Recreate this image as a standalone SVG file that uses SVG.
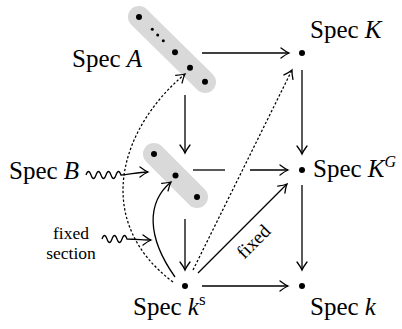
<svg xmlns="http://www.w3.org/2000/svg" width="402" height="329" viewBox="0 0 402 329">
<style>
.lbl{font-family:"Liberation Serif","Times New Roman",serif;font-size:25px;fill:#000}
.sm{font-family:"Liberation Serif","Times New Roman",serif;font-size:19px;fill:#000}
.fs{font-family:"Liberation Serif","Times New Roman",serif;font-size:17.5px;fill:#000}
.ln{fill:none;stroke:#000;stroke-width:1.3}
.dt{fill:none;stroke:#000;stroke-width:1.25;stroke-dasharray:2.4 2}
.cap{stroke:#d9d9d9;stroke-width:22;stroke-linecap:round}
.dot{fill:#000}
</style>
<defs>
<marker id="arr" viewBox="-10 -7 12 14" refX="0" refY="0" markerWidth="12" markerHeight="14" markerUnits="userSpaceOnUse" orient="auto">
<path d="M-8,-5 Q-3,-1.2 0,0 Q-3,1.2 -8,5" fill="none" stroke="#000" stroke-width="1.3" stroke-linecap="round" stroke-dasharray="none"/>
</marker>
</defs>
<rect width="402" height="329" fill="#fff"/>

<g id="nodeA">
<line class="cap" x1="139" y1="17" x2="205" y2="82"/>
<circle class="dot" cx="139" cy="17" r="3"/>
<circle class="dot" cx="152.3" cy="29.3" r="1.5"/>
<circle class="dot" cx="157.7" cy="35" r="1.5"/>
<circle class="dot" cx="163.3" cy="40.7" r="1.5"/>
<circle class="dot" cx="175" cy="52.3" r="3"/>
<circle class="dot" cx="190" cy="67.7" r="3"/>
<circle class="dot" cx="205" cy="81.7" r="3"/>
<text class="lbl" x="72" y="67">Spec <tspan font-style="italic">A</tspan></text>
</g>

<g id="nodeB">
<line class="cap" x1="154" y1="154" x2="197" y2="197"/>
<circle class="dot" cx="154" cy="154" r="3"/>
<circle class="dot" cx="175.5" cy="175.5" r="3"/>
<circle class="dot" cx="197" cy="197" r="3"/>
<text class="lbl" x="9" y="179">Spec <tspan font-style="italic">B</tspan></text>
</g>

<g id="nodeK">
<circle class="dot" cx="302" cy="53" r="3"/>
<text class="lbl" x="310" y="38">Spec <tspan font-style="italic">K</tspan></text>
</g>

<g id="nodeKG">
<circle class="dot" cx="302" cy="170" r="3"/>
<text class="lbl" x="313" y="177">Spec <tspan font-style="italic">K</tspan><tspan font-style="italic" font-size="16" dy="-10">G</tspan></text>
</g>

<g id="nodeks">
<circle class="dot" cx="185" cy="286" r="3"/>
<text class="lbl" x="133" y="315">Spec <tspan font-style="italic">k</tspan><tspan font-size="17" dy="-10">s</tspan></text>
</g>

<g id="nodek">
<circle class="dot" cx="302" cy="286" r="3"/>
<text class="lbl" x="310" y="315">Spec <tspan font-style="italic">k</tspan></text>
</g>

<g id="fixedsection">
<text class="fs" x="71" y="239" text-anchor="middle">fixed</text>
<text class="fs" x="71" y="258.5" text-anchor="middle">section</text>
</g>

<g id="connectors">
<path class="ln" d="M202,53 H289" marker-end="url(#arr)"/>
<path class="ln" d="M302,70 V154" marker-end="url(#arr)"/>
<path class="ln" d="M302,185 V270" marker-end="url(#arr)"/>
<path class="ln" d="M202,286 H288" marker-end="url(#arr)"/>
<path class="ln" d="M185,95 V153" marker-end="url(#arr)"/>
<path class="ln" d="M185,219 V270" marker-end="url(#arr)"/>
<path class="ln" d="M193,170 H225"/>
<path class="ln" d="M250,170 H288" marker-end="url(#arr)"/>
<path class="ln" d="M198,273 L287,184" marker-end="url(#arr)"/>
<text class="sm" transform="translate(258,246) rotate(-45)" text-anchor="middle">fixed</text>
<path class="dt" d="M173,282 C93,222 118,130 185,74" marker-end="url(#arr)"/>
<path class="dt" d="M193,270 L292,70" marker-end="url(#arr)"/>
<path class="ln" d="M175,277 C146,236 147,202 171,182" marker-end="url(#arr)"/>
<path class="ln" d="M86,175 q2.5,-7 5,0 t5,0 t5,0 t5,0 t5,0 t5,0 t5,0 C128,175 138,172 148,172" marker-end="url(#arr)"/>
<path class="ln" d="M102,239 q2.5,-7 5,0 t5,0 t5,0 t5,0 t5,0 C136,239 144,240 151,240" marker-end="url(#arr)"/>
</g>
</svg>
